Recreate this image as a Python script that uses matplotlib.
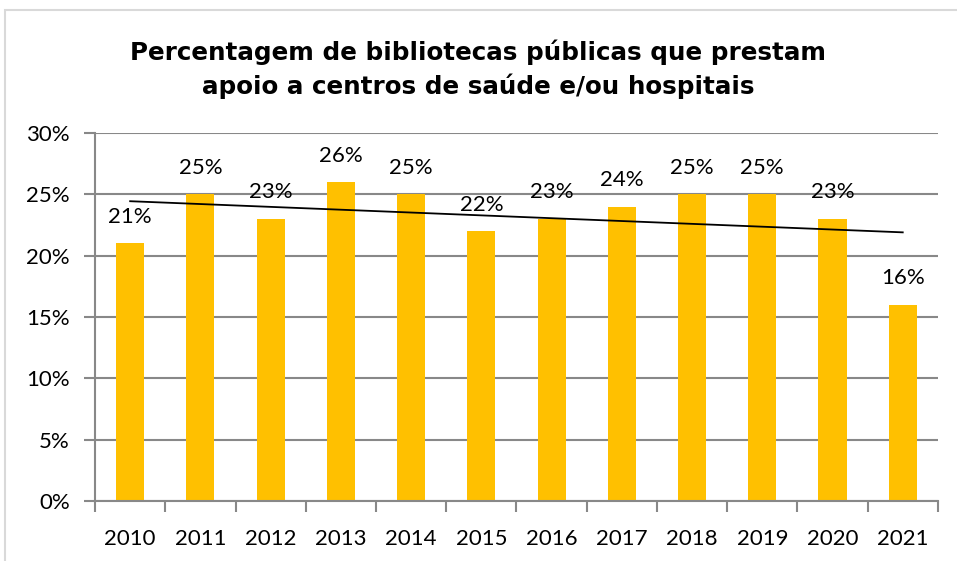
import numpy as np
import matplotlib.pyplot as plt
from matplotlib.patches import Rectangle

years = ['2010', '2011', '2012', '2013', '2014', '2015', '2016', '2017', '2018', '2019', '2020', '2021']
values = [21, 25, 23, 26, 25, 22, 23, 24, 25, 25, 23, 16]
yticks = [0, 5, 10, 15, 20, 25, 30]

title = 'Percentagem de bibliotecas públicas que prestam\napoio a centros de saúde e/ou hospitais'

fig = plt.figure(figsize=(9.57, 5.61), dpi=100)
ax = fig.add_axes([0.0993, 0.107, 0.8807, 0.656])

x = np.arange(len(years))
ax.bar(x, values, width=0.4, color='#FFC000', zorder=2)

# linear trendline like the spreadsheet one
k, b = np.polyfit(x, values, 1)
ax.plot(x, k * x + b, color='black', lw=1.3, zorder=3)

for xi, v in zip(x, values):
    ax.annotate(f'{v}%', (xi, v), xytext=(0, 19), textcoords='offset points',
                ha='center', va='center', fontsize=16, family='Lato')

ax.set_xlim(-0.5, len(years) - 0.5)
ax.set_ylim(0, 30)
ax.set_yticks(yticks)
ax.set_yticklabels([f'{t}%' for t in yticks], family='Lato', fontsize=16)
ax.set_xticks(x)
ax.set_xticklabels(years, family='Lato', fontsize=16)
ax.set_xticks(np.arange(-0.5, len(years)), minor=True)
ax.tick_params(axis='x', which='major', length=0, pad=20)
ax.tick_params(axis='x', which='minor', length=8, color='#888888', width=1.5)
ax.tick_params(axis='y', length=8, color='#888888', width=1.5, pad=10)
ax.yaxis.grid(True, color='#888888', lw=1.5, zorder=0)

for side in ['top', 'right']:
    ax.spines[side].set_visible(False)
for side in ['left', 'bottom']:
    ax.spines[side].set_color('#888888')
    ax.spines[side].set_linewidth(1.5)

fig.text(0.5, 0.877, title, ha='center', va='center', fontsize=17.7,
         fontweight='bold', family='DejaVu Sans', linespacing=1.4)

fig.patches.append(Rectangle((5 / 957, -0.01), 1.0, 1 - 10 / 561 + 0.01,
                             transform=fig.transFigure, fill=False,
                             edgecolor='#d9d9d9', lw=1.5))

fig.savefig('out.png', dpi=100)
